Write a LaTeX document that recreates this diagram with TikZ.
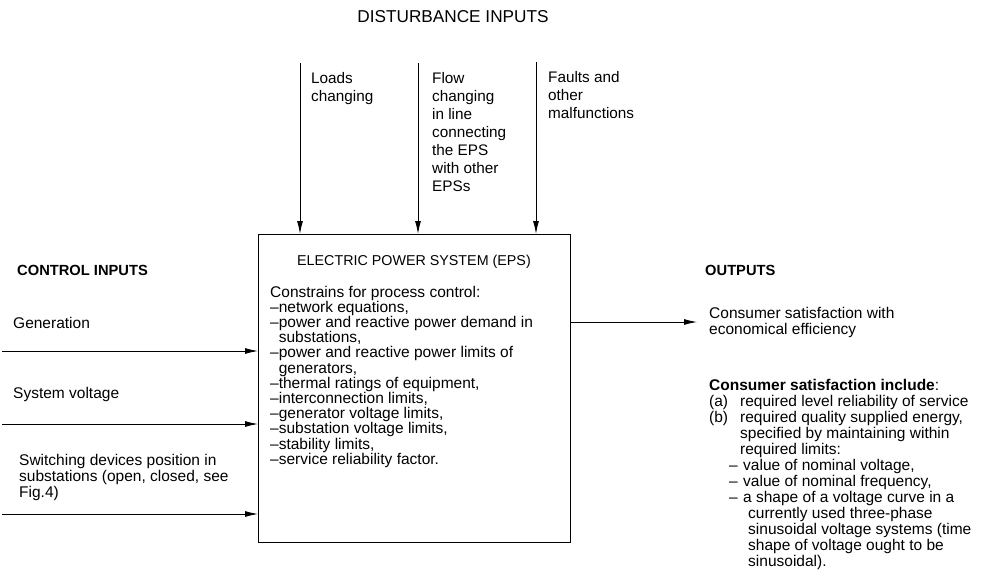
\documentclass[tikz,border=0pt]{standalone}
\usepackage{fontspec}
\setmainfont{Liberation Sans}
\usetikzlibrary{arrows.meta}
\begin{document}
\begin{tikzpicture}[x=1pt,y=-1pt,
  conn/.style={line width=0.9pt,-{Latex[length=13pt,width=6pt]}},
  txt/.style={inner sep=0pt,align=left,anchor=base west,font=\fontsize{15.5}{16}\selectfont},
  boxtxt/.style={inner sep=0pt,align=left,anchor=base west,font=\fontsize{15.5}{15.2}\selectfont},
  dtxt/.style={inner sep=0pt,align=left,anchor=base west,font=\fontsize{15.3}{18}\selectfont},
  head/.style={inner sep=0pt,anchor=base west,font=\fontsize{14.7}{16}\selectfont\bfseries},
  epsbox/.style={draw,line width=0.9pt,inner sep=0pt,anchor=north west,minimum width=312pt,minimum height=308pt}]
\useasboundingbox (0,0) rectangle (989,587);

\node[inner sep=0pt,anchor=base,font=\fontsize{17.2}{18}\selectfont] (title) at (453,22) {DISTURBANCE INPUTS};

\node[epsbox] (eps) at (258,234) {};
\node[inner sep=0pt,anchor=base,font=\fontsize{14.3}{15}\selectfont] (epstitle) at (414,265) {ELECTRIC POWER SYSTEM (EPS)};
% anchor base of a multi-line node = baseline of its last line
\node[boxtxt] (constr) at (270,464.2) {Constrains for process control:\\
–network equations,\\
–power and reactive power demand in\\
\hspace*{8.6pt}substations,\\
–power and reactive power limits of\\
\hspace*{8.6pt}generators,\\
–thermal ratings of equipment,\\
–interconnection limits,\\
–generator voltage limits,\\
–substation voltage limits,\\
–stability limits,\\
–service reliability factor.};

% disturbance inputs
\coordinate (d1) at (300,63);
\coordinate (d2) at (418,63);
\coordinate (d3) at (536,62);
\draw[conn] (d1) -- (d1 |- eps.north);
\draw[conn] (d2) -- (d2 |- eps.north);
\draw[conn] (d3) -- (d3 |- eps.north);
\node[dtxt] (loads) at (311,101) {Loads\\changing};
\node[dtxt] (flow) at (432,191) {Flow\\changing\\in line\\connecting\\the EPS\\with other\\EPSs};
\node[dtxt] (faults) at (548,118) {Faults and\\other\\malfunctions};

% control inputs
\node[head] (ctrl) at (17,275) {CONTROL INPUTS};
\node[txt] (gen) at (13,328) {Generation};
\node[txt] (volt) at (13,398) {System voltage};
\node[txt] (sw) at (19,497) {Switching devices position in\\substations (open, closed, see\\Fig.4)};
\coordinate (c1) at (2,351);
\coordinate (c2) at (2,424);
\coordinate (c3) at (2,514);
\draw[conn] (c1) -- (c1 -| eps.west);
\draw[conn] (c2) -- (c2 -| eps.west);
\draw[conn] (c3) -- (c3 -| eps.west);

% outputs
\node[head] (outs) at (705,275) {OUTPUTS};
\coordinate (o1) at (697,322);
\draw[conn] (o1 -| eps.east) -- (o1);
\node[txt] (sat) at (709,334) {Consumer satisfaction with\\economical efficiency};
\node[txt] (incl) at (709,566) {\textbf{Consumer satisfaction include}:\\
\makebox[31pt][l]{(a)}required level reliability of service\\
\makebox[31pt][l]{(b)}required quality supplied energy,\\
\hspace*{31pt}specified by maintaining within\\
\hspace*{31pt}required limits:\\
\hspace*{20pt}\makebox[14pt][l]{–}value of nominal voltage,\\
\hspace*{20pt}\makebox[14pt][l]{–}value of nominal frequency,\\
\hspace*{20pt}\makebox[14pt][l]{–}a shape of a voltage curve in a\\
\hspace*{39pt}currently used three-phase\\
\hspace*{39pt}sinusoidal voltage systems (time\\
\hspace*{39pt}shape of voltage ought to be\\
\hspace*{39pt}sinusoidal).};
\end{tikzpicture}
\end{document}
